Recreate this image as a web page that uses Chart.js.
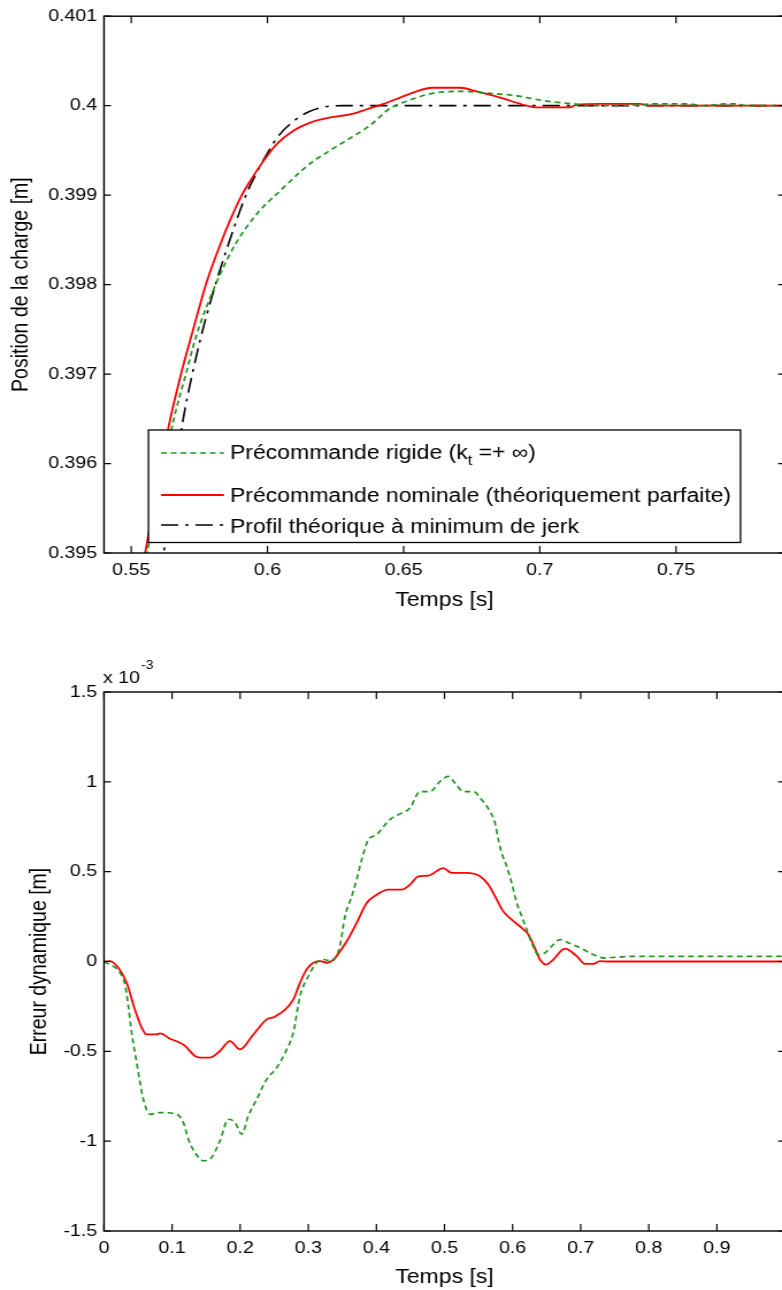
<!DOCTYPE html>
<html><head><meta charset="utf-8">
<script src="https://cdn.jsdelivr.net/npm/chart.js@4.4.1/dist/chart.umd.min.js"></script>
<style>
html,body{margin:0;padding:0;background:#fff;width:782px;height:1290px;overflow:hidden;}
.wrap{position:absolute;left:0;transform:scaleX(1.15);transform-origin:0 0;}
#w1{top:0;width:700px;height:640px;}
#w2{top:640px;width:700px;height:650px;}
canvas{display:block;}
</style></head><body>
<div class="wrap" id="w1"><canvas id="c1" width="700" height="640" style="width:700px;height:640px"></canvas></div>
<div class="wrap" id="w2"><canvas id="c2" width="700" height="650" style="width:700px;height:650px"></canvas></div>
<script>
// ---------- DATA ----------
const seriesLabels = ['Précommande rigide (kt =+ ∞)', 'Précommande nominale (théoriquement parfaite)', 'Profil théorique à minimum de jerk'];
const legendParts = [['Précommande rigide (k', 't', ' =+ ∞)'], ['Précommande nominale (théoriquement parfaite)'], ['Profil théorique à minimum de jerk']];

// Top chart: load position [m] vs time [s]
const posTimeRigid = [0.550,0.5558,0.5655,0.5698,0.5741,0.5796,0.5827,0.5882,0.5961,0.6047,0.6132,0.6169,0.6230,0.6267,0.6377,0.6450,0.6511,0.6609,0.6719,0.6805,0.6915,0.7025,0.7123,0.7184,0.7300,0.7430,0.7540,0.7600,0.7680,0.7720,0.7760,0.7900];
const posValRigid  = [0.39412,0.39500,0.39648,0.39697,0.39745,0.39790,0.39812,0.39845,0.39879,0.39905,0.39929,0.39938,0.39950,0.39957,0.39978,0.39997,0.40005,0.40014,0.40016,0.40014,0.40011,0.40005,0.40002,0.40000,0.40000,0.40002,0.40002,0.40000,0.40002,0.40002,0.40000,0.40000];
const posTimeNominal = [0.550,0.5551,0.5637,0.5686,0.5723,0.5778,0.5827,0.5863,0.5906,0.5937,0.5985,0.6034,0.6095,0.6157,0.6218,0.6316,0.6365,0.6426,0.6487,0.6548,0.6603,0.6707,0.6768,0.6854,0.6952,0.6988,0.7110,0.7135,0.7220,0.7367,0.7400,0.7900];
const posValNominal  = [0.39416,0.39500,0.39641,0.39704,0.39745,0.39804,0.39845,0.39872,0.39900,0.39916,0.39938,0.39957,0.39972,0.39981,0.39986,0.39991,0.39996,0.40002,0.40009,0.40016,0.40020,0.40020,0.40016,0.40009,0.40000,0.39998,0.39998,0.40001,0.40002,0.40002,0.40000,0.40000];
const posTimeJerk = [0.556,0.5619,0.5692,0.5722,0.5753,0.5778,0.5814,0.5851,0.5888,0.5924,0.5967,0.6004,0.6040,0.6089,0.6150,0.6218,0.6280,0.7900];
const posValJerk  = [0.39380,0.39500,0.39652,0.39697,0.39738,0.39767,0.39805,0.39840,0.39873,0.39902,0.39929,0.39949,0.39966,0.39981,0.39993,0.39999,0.40000,0.40000];

const posXTicks = [0.55,0.6,0.65,0.7,0.75];
const posXTickLabels = ['0.55','0.6','0.65','0.7','0.75'];
const posYTicks = [0.395,0.396,0.397,0.398,0.399,0.4,0.401];
const posYTickLabels = ['0.395','0.396','0.397','0.398','0.399','0.4','0.401'];

// Bottom chart: dynamic error (x 10^-3 m) vs time [s]
const errTimeRigid = [0,0.0235,0.0308,0.0357,0.0406,0.048,0.0529,0.0577,0.0675,0.0822,0.1067,0.1165,0.1238,0.1336,0.1459,0.1557,0.1703,0.1826,0.1924,0.2022,0.2119,0.2242,0.2389,0.2536,0.2683,0.278,0.2878,0.30,0.3123,0.322,0.3344,0.3466,0.3539,0.3637,0.371,0.3784,0.3882,0.4004,0.4126,0.4225,0.4371,0.4493,0.464,0.4787,0.4934,0.5056,0.5154,0.5276,0.5423,0.5546,0.5668,0.5742,0.5791,0.584,0.5913,0.5987,0.6061,0.6133,0.6207,0.628,0.6378,0.6476,0.6574,0.6696,0.6843,0.699,0.7185,0.7332,0.7724,1.0];
const errValRigid  = [0,-0.063,-0.128,-0.248,-0.396,-0.563,-0.674,-0.767,-0.85,-0.841,-0.85,-0.896,-0.989,-1.063,-1.109,-1.10,-0.998,-0.878,-0.896,-0.961,-0.859,-0.767,-0.656,-0.591,-0.489,-0.396,-0.193,-0.082,-0.007,0.011,0.002,0.09,0.252,0.363,0.456,0.567,0.678,0.706,0.761,0.798,0.826,0.854,0.946,0.946,1.002,1.03,0.993,0.946,0.946,0.90,0.835,0.771,0.678,0.604,0.53,0.437,0.326,0.252,0.178,0.104,0.039,0.048,0.085,0.122,0.10,0.076,0.039,0.02,0.028,0.028];
const errTimeNominal = [0,0.0088,0.021,0.0333,0.043,0.0553,0.0627,0.0774,0.0822,0.0969,0.1116,0.119,0.1336,0.141,0.1557,0.1703,0.185,0.1997,0.2193,0.2389,0.2511,0.278,0.2878,0.2976,0.3074,0.3172,0.327,0.3368,0.3564,0.371,0.3857,0.4004,0.4175,0.4371,0.4493,0.4616,0.4762,0.4982,0.5105,0.5325,0.5521,0.5643,0.5742,0.5864,0.5987,0.6133,0.6231,0.6305,0.6402,0.649,0.6574,0.6769,0.6941,0.7063,0.7185,0.7283,0.74,1.0];
const errValNominal  = [0,0.002,-0.035,-0.118,-0.239,-0.368,-0.406,-0.406,-0.40,-0.43,-0.452,-0.47,-0.526,-0.535,-0.535,-0.498,-0.443,-0.489,-0.406,-0.322,-0.307,-0.211,-0.118,-0.044,-0.007,0.002,-0.007,0.011,0.113,0.215,0.326,0.372,0.40,0.40,0.428,0.474,0.478,0.52,0.493,0.493,0.474,0.428,0.363,0.279,0.233,0.187,0.15,0.094,0.011,-0.017,0.002,0.072,0.03,-0.013,-0.013,0.002,0,0];

const errXTicks = [0,0.1,0.2,0.3,0.4,0.5,0.6,0.7,0.8,0.9];
const errXTickLabels = ['0','0.1','0.2','0.3','0.4','0.5','0.6','0.7','0.8','0.9'];
const errYTicks = [-1.5,-1,-0.5,0,0.5,1,1.5];
const errYTickLabels = ['-1.5','-1','-0.5','0','0.5','1','1.5'];

// ---------- STYLE / LAYOUT ----------
const FONT = "'Liberation Sans', Arial, Helvetica, sans-serif";
const GREEN = '#1f951f', RED = '#ff0000', BLACK = '#000000';
const DASH_RIGID = [5, 3.5];
const DASH_JERK = [15, 6, 3, 6];

function zip(xs, ys){ return xs.map((x,i)=>({x:x, y:ys[i]})); }

const framePlugin = {
  id: 'frame',
  afterDraw(chart){
    const {ctx, chartArea:a, scales} = chart;
    ctx.save();
    ctx.setLineDash([]);
    ctx.strokeStyle = '#000';
    ctx.lineWidth = 1.4;
    ctx.strokeRect(a.left, a.top, a.right - a.left, a.bottom - a.top);
    ctx.lineWidth = 1.2;
    ctx.beginPath();
    scales.x.ticks.forEach(t => {
      const px = scales.x.getPixelForValue(t.value);
      ctx.moveTo(px, a.bottom); ctx.lineTo(px, a.bottom - 7);
      ctx.moveTo(px, a.top); ctx.lineTo(px, a.top + 7);
    });
    scales.y.ticks.forEach(t => {
      const py = scales.y.getPixelForValue(t.value);
      ctx.moveTo(a.left, py); ctx.lineTo(a.left + 6, py);
      ctx.moveTo(a.right, py); ctx.lineTo(a.right - 6, py);
    });
    ctx.stroke();
    ctx.restore();
  }
};

const LEG = {left:129.1, right:643.9, top:430, bottom:542.5, lineX0:140, lineX1:194.8, textX:200,
             lineY:[453, 495, 525], textY:[459, 502, 533]};
const legendBoxPlugin = {
  id: 'legendBox',
  afterDraw(chart){
    const ctx = chart.ctx;
    ctx.save();
    ctx.setLineDash([]);
    ctx.fillStyle = '#fff';
    ctx.fillRect(LEG.left, LEG.top, LEG.right - LEG.left, LEG.bottom - LEG.top);
    ctx.strokeStyle = '#000'; ctx.lineWidth = 1.3;
    ctx.strokeRect(LEG.left, LEG.top, LEG.right - LEG.left, LEG.bottom - LEG.top);
    chart.data.datasets.forEach((ds, i) => {
      ctx.beginPath();
      ctx.setLineDash(ds.borderDash || []);
      ctx.strokeStyle = ds.borderColor; ctx.lineWidth = ds.borderWidth;
      ctx.moveTo(LEG.lineX0, LEG.lineY[i]); ctx.lineTo(LEG.lineX1, LEG.lineY[i]);
      ctx.stroke();
      ctx.setLineDash([]);
      let x = LEG.textX;
      ctx.fillStyle = '#000'; ctx.textAlign = 'left'; ctx.textBaseline = 'alphabetic';
      legendParts[i].forEach((p, j) => {
        const sub = (j % 2 === 1);
        ctx.font = (sub ? 14 : 20) + 'px ' + FONT;
        ctx.fillText(p, x, LEG.textY[i] + (sub ? 6 : 0));
        x += ctx.measureText(p).width;
      });
    });
    ctx.restore();
  }
};

const expPlugin = {
  id: 'exponent',
  afterDraw(chart){
    const ctx = chart.ctx;
    ctx.save();
    ctx.fillStyle = '#000'; ctx.textAlign = 'left'; ctx.textBaseline = 'alphabetic';
    ctx.font = '17px ' + FONT;
    const main = 'x 10';
    ctx.fillText(main, 89.6, 43);
    const w = ctx.measureText(main).width;
    ctx.font = '12px ' + FONT;
    ctx.fillText('-3', 89.6 + w + 1, 29);
    ctx.restore();
  }
};

function labelFor(ticks, labels){
  return function(v){ const i = ticks.findIndex(t => Math.abs(t - v) < 1e-9); return i >= 0 ? labels[i] : ''; };
}

function makeScales(o){
  return {
    x: {
      type: 'linear', min: o.xMin, max: o.xMax,
      afterBuildTicks: s => { s.ticks = o.xTicks.map(v => ({value: v})); },
      afterFit: s => { s.height = o.xAxisH; },
      grid: {display: false, drawTicks: false, tickLength: 0}, border: {display: false},
      ticks: {callback: labelFor(o.xTicks, o.xLabels), color: '#000', font: {family: FONT, size: 17}, padding: 7, maxRotation: 0, autoSkip: false},
      title: {display: true, text: 'Temps [s]', color: '#000', font: {family: FONT, size: 20}, padding: {top: 0, bottom: o.xTitlePad}}
    },
    y: {
      type: 'linear', min: o.yMin, max: o.yMax,
      afterBuildTicks: s => { s.ticks = o.yTicks.map(v => ({value: v})); },
      afterFit: s => { s.width = 90.43; },
      grid: {display: false, drawTicks: false, tickLength: 0}, border: {display: false},
      ticks: {callback: labelFor(o.yTicks, o.yLabels), color: '#000', font: {family: FONT, size: 17}, padding: 6, autoSkip: false},
      title: {display: true, text: o.yTitle, color: '#000', font: {family: FONT, size: 19.5}, padding: {top: o.yTitlePad, bottom: 0}}
    }
  };
}

const commonOpts = {
  responsive: false, animation: false, devicePixelRatio: 1,
  plugins: {legend: {display: false}, tooltip: {enabled: false}},
  elements: {point: {radius: 0}, line: {cubicInterpolationMode: 'monotone', borderCapStyle: 'butt'}}
};

new Chart(document.getElementById('c1'), {
  type: 'line',
  data: {datasets: [
    {label: seriesLabels[0], data: zip(posTimeRigid, posValRigid), borderColor: GREEN, borderWidth: 1.7, borderDash: DASH_RIGID, fill: false},
    {label: seriesLabels[1], data: zip(posTimeNominal, posValNominal), borderColor: RED, borderWidth: 1.8, fill: false},
    {label: seriesLabels[2], data: zip(posTimeJerk, posValJerk), borderColor: BLACK, borderWidth: 1.6, borderDash: DASH_JERK, fill: false}
  ]},
  options: Object.assign({}, commonOpts, {
    layout: {padding: {top: 15, left: 0, right: 17.4, bottom: 0}},
    scales: makeScales({xMin: 0.54, xMax: 0.79, xTicks: posXTicks, xLabels: posXTickLabels,
      yMin: 0.395, yMax: 0.401, yTicks: posYTicks, yLabels: posYTickLabels,
      yTitle: 'Position de la charge [m]', yTitlePad: 7.4, xTitlePad: 28, xAxisH: 87})
  }),
  plugins: [legendBoxPlugin, framePlugin]
});

new Chart(document.getElementById('c2'), {
  type: 'line',
  data: {datasets: [
    {label: seriesLabels[0], data: zip(errTimeRigid, errValRigid), borderColor: GREEN, borderWidth: 1.7, borderDash: DASH_RIGID, fill: false},
    {label: seriesLabels[1], data: zip(errTimeNominal, errValNominal), borderColor: RED, borderWidth: 1.8, fill: false}
  ]},
  options: Object.assign({}, commonOpts, {
    layout: {padding: {top: 52, left: 0, right: 17.4, bottom: 0}},
    scales: makeScales({xMin: 0, xMax: 1, xTicks: errXTicks, xLabels: errXTickLabels,
      yMin: -1.5, yMax: 1.5, yTicks: errYTicks, yLabels: errYTickLabels,
      yTitle: 'Erreur dynamique [m]', yTitlePad: 23.1, xTitlePad: 1, xAxisH: 59})
  }),
  plugins: [framePlugin, expPlugin]
});
</script>
</body></html>
